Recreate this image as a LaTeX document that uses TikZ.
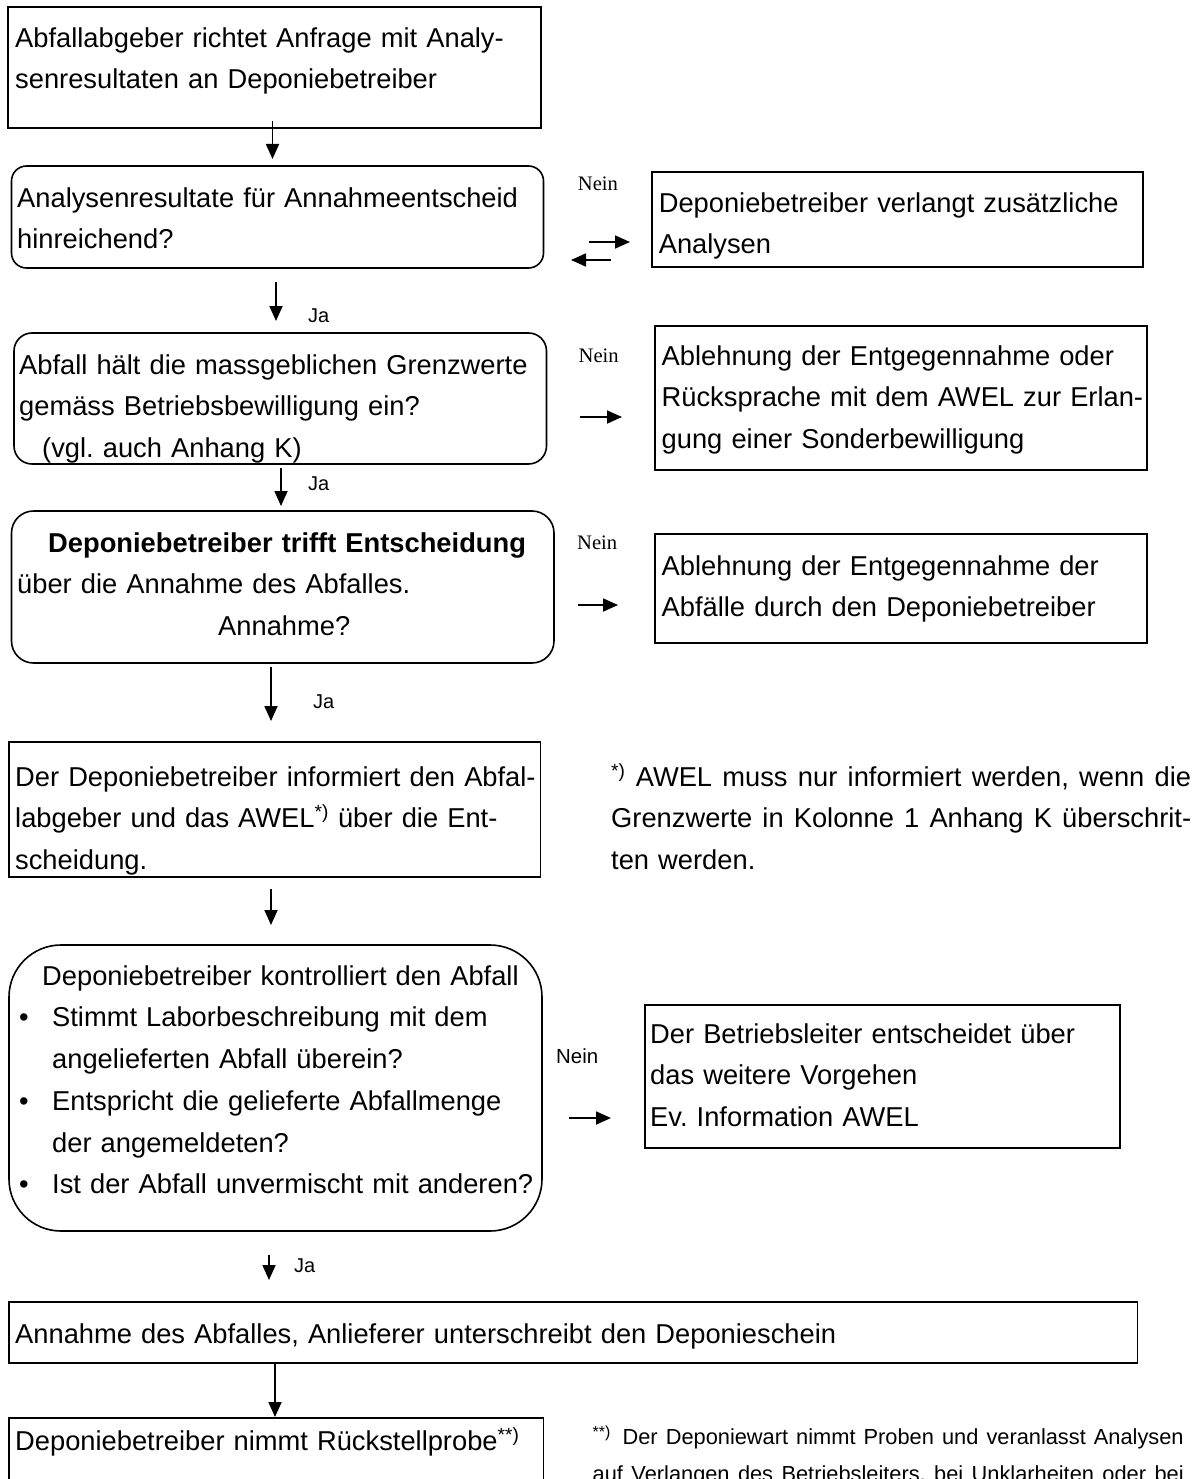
\documentclass[tikz,border=0pt]{standalone}
\usepackage{fontspec}
\setmainfont{Liberation Sans}
\newfontfamily\neinserif{Liberation Serif}
\usetikzlibrary{arrows.meta}
\newcommand\mainsz{\fontsize{27.3}{41.7}\selectfont}
\newcommand\smallsz{\fontsize{21.8}{37}\selectfont}
\newcommand\st{\rule[-10pt]{0pt}{34pt}}
\newcommand\jline[2]{\hbox to #1{\spaceskip=0.278em plus 1fil\relax #2}}
\frenchspacing
\begin{document}
\begin{tikzpicture}[x=1pt,y=-1pt,
  box/.style={draw, line width=1.6pt, inner sep=0pt},
  rbox/.style={box, rounded corners=#1},
  txt/.style={anchor=north west, inner sep=0pt, align=left, text width=620pt, font=\mainsz},
  arr/.style={line width=1.8pt, -{Triangle[length=15pt,width=13pt]}},
  ja/.style={anchor=base west, inner sep=0pt, font=\fontsize{20}{24}\selectfont},
  nein/.style={anchor=base west, inner sep=0pt, font=\neinserif\fontsize{20.6}{24}\selectfont},
  neinsans/.style={anchor=base west, inner sep=0pt, font=\fontsize{20.4}{24}\selectfont}
]
\path[use as bounding box] (0,0) rectangle (1197,1479);
\clip (0,0) rectangle (1197,1479);

% boxes
\node[box, minimum width=533pt, minimum height=121pt] (b1) at (274.5,67.5) {};
\node[rbox=15pt, minimum width=532pt, minimum height=102pt] (b2) at (277.5,217) {};
\node[box, minimum width=491pt, minimum height=95pt] (b3) at (897.5,219.5) {};
\node[rbox=18pt, minimum width=532.5pt, minimum height=131pt] (b4) at (280.25,398.5) {};
\node[box, minimum width=492pt, minimum height=144pt] (b5) at (901,398) {};
\node[rbox=22pt, minimum width=542.5pt, minimum height=152pt] (b6) at (282.75,587) {};
\node[box, minimum width=492pt, minimum height=109pt] (b7) at (901,588.5) {};
\node[box, minimum width=531.5pt, minimum height=135pt] (b8) at (274.75,809.5) {};
\node[rbox=52pt, minimum width=533pt, minimum height=286pt] (b9) at (275.5,1088) {};
\node[box, minimum width=475pt, minimum height=143pt] (b10) at (882.5,1076.5) {};
\node[box, minimum width=1128.5pt, minimum height=61pt] (b11) at (573.25,1332.5) {};
\node[box, minimum width=534.5pt, minimum height=92pt] (b12) at (276.25,1464) {};

% texts
\node[txt] (t1) at (15,23) {\st Abfallabgeber richtet Anfrage mit Analy-\\\st senresultaten an Deponiebetreiber};
\node[txt] (t2) at (17,183) {\st Analysenresultate für Annahmeentscheid\\\st hinreichend?};
\node[txt] (t3) at (658.6,188) {\st Deponiebetreiber verlangt zusätzliche\\\st Analysen};
\node[txt] (t4) at (19,350) {\st Abfall hält die massgeblichen Grenzwerte\\\st gemäss Betriebsbewilligung ein?\\\st\hspace*{23pt}(vgl. auch Anhang K)};
\node[txt] (t5) at (661.5,341) {\st Ablehnung der Entgegennahme oder\\\st Rücksprache mit dem AWEL zur Erlan-\\\st gung einer Sonderbewilligung};
\node[txt] (t6) at (17,528) {\st\hspace*{31pt}\textbf{Deponiebetreiber trifft Entscheidung}\\\st über die Annahme des Abfalles.\\\st\hspace*{201pt}Annahme?};
\node[txt] (t7) at (661.5,551) {\st Ablehnung der Entgegennahme der\\\st Abfälle durch den Deponiebetreiber};
\node[txt] (t8) at (15,762) {\st Der Deponiebetreiber informiert den Abfal-\\\st labgeber und das AWEL\textsuperscript{*)} über die Ent-\\\st scheidung.};
\node[txt] (f1) at (611,762) {\st\jline{580pt}{\textsuperscript{*)} AWEL muss nur informiert werden, wenn die}\\\st\jline{580pt}{Grenzwerte in Kolonne 1 Anhang K überschrit-}\\\st ten werden.};
\node[txt] (t9) at (19,961) {\st\hspace*{23pt}Deponiebetreiber kontrolliert den Abfall\\
\st\makebox[33pt][l]{\textbullet}Stimmt Laborbeschreibung mit dem\\
\st\hspace*{33pt}angelieferten Abfall überein?\\
\st\makebox[33pt][l]{\textbullet}Entspricht die gelieferte Abfallmenge\\
\st\hspace*{33pt}der angemeldeten?\\
\st\makebox[33pt][l]{\textbullet}Ist der Abfall unvermischt mit anderen?};
\node[txt] (t10) at (650,1019) {\st Der Betriebsleiter entscheidet über\\\st das weitere Vorgehen\\\st Ev. Information AWEL};
\node[txt, text width=1100pt] (t11) at (15,1319) {\st Annahme des Abfalles, Anlieferer unterschreibt den Deponieschein};
\node[txt] (t12) at (15,1426) {\st Deponiebetreiber nimmt Rückstellprobe\textsuperscript{**)}};
\node[txt, font=\smallsz] (f2) at (592.5,1420) {\st\jline{591pt}{\raisebox{7pt}{\fontsize{16}{16}\selectfont **)}\hspace{4pt} Der Deponiewart nimmt Proben und veranlasst Analysen}\\\st\jline{591pt}{auf Verlangen des Betriebsleiters, bei Unklarheiten oder bei}};

% labels
\node[nein] (n1) at (577.7,191) {Nein};
\node[nein] (n2) at (578.5,362) {Nein};
\node[nein] (n3) at (577,549) {Nein};
\node[neinsans] (n4) at (556,1063) {Nein};
\node[ja] (j1) at (308,322) {Ja};
\node[ja] (j2) at (308,490) {Ja};
\node[ja] (j3) at (313,708) {Ja};
\node[ja] (j4) at (294,1272) {Ja};

% connector end points
\coordinate (a1s) at (272.5,121); \coordinate (a1e) at (272.5,159);
\coordinate (a2s) at (276,282);   \coordinate (a2e) at (276,321);
\coordinate (a3s) at (281,468);   \coordinate (a3e) at (281,506);
\coordinate (a4s) at (271,667);   \coordinate (a4e) at (271,721);
\coordinate (a5s) at (271,889);   \coordinate (a5e) at (271,925);
\coordinate (a6s) at (269,1255);  \coordinate (a6e) at (269,1280);
\coordinate (a7s) at (275,1363);  \coordinate (a7e) at (275,1417);
\coordinate (h1s) at (589,242);   \coordinate (h1e) at (630,242);
\coordinate (h0s) at (611,260);   \coordinate (h0e) at (571,260);
\coordinate (h2s) at (580,417);   \coordinate (h2e) at (622,417);
\coordinate (h3s) at (578,605);   \coordinate (h3e) at (618,605);
\coordinate (h4s) at (569,1118);  \coordinate (h4e) at (611,1118);

\foreach \a in {a1,a2,a3,a4,a5,a6,a7,h1,h0,h2,h3,h4}
  \draw[arr] (\a s) -- (\a e);
\end{tikzpicture}
\end{document}
